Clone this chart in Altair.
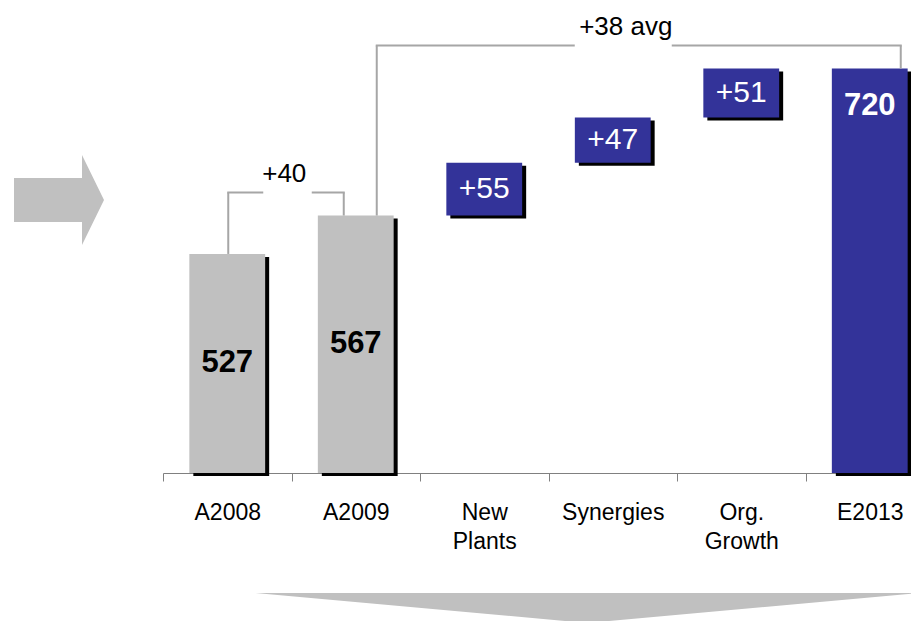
import altair as alt
import pandas as pd

# ---- data ----
categories = ["A2008", "A2009", "New Plants", "Synergies", "Org. Growth", "E2013"]
values = [527, 567, 55, 47, 51, 720]
kinds = ["total", "total", "step", "step", "step", "total"]
series = ["actual", "actual", "plan", "plan", "plan", "plan"]

bracket_from = ["A2008", "A2009"]
bracket_to = ["A2009", "E2013"]
bracket_text = ["+40", "+38 avg"]

# ---- scale / style settings ----
AXIS_MIN = 299
AXIS_MAX = 783
BRACKET_RISE = 24
FONT = "Liberation Sans"
GRAY = "#c0c0c0"
BLUE = "#333399"
LINE = "#a6a6a6"

# pixel offsets of bracket parts relative to band centres (styling only)
leg_left_off = [1, 21]
leg_right_off = [-12, 31]
gap_left_off = [36, 219]
gap_right_off = [-44, -198]
text_off = [57, 270]

# ---- build waterfall table ----
rows = []
running = 0
last_total = max(i for i, k in enumerate(kinds) if k == "total")
for i, (cat, v, k, s) in enumerate(zip(categories, values, kinds, series)):
    if k == "total":
        start, end = AXIS_MIN, v
        running = v
        label = str(v)
        pos = "top" if i == last_total else "middle"
    else:
        start, end = running, running + v
        running = end
        label = f"+{v}"
        pos = "middle"
    rows.append(dict(cat=cat, start=start, end=end, mid=(start + end) / 2,
                     kind=k, series=s, label=label, pos=pos))
df = pd.DataFrame(rows)
end_of = dict(zip(df["cat"], df["end"]))

xscale = alt.Scale(domain=categories, range=[0, 771], paddingInner=0, paddingOuter=0)
yscale = alt.Scale(domain=[AXIS_MIN, AXIS_MAX], zero=False, nice=False)
xaxis = alt.Axis(title=None, labelExpr="split(datum.label, ' ')", tickBand="extent",
                 labelAngle=0)


def X(field, **kw):
    return alt.X(f"{field}:N", scale=xscale, axis=xaxis, **kw)


def Y(field):
    return alt.Y(f"{field}:Q", scale=yscale, axis=None)


bw = alt.RelativeBandSize(0.59)

shadow = alt.Chart(df).mark_bar(color="black", xOffset=4, x2Offset=4, yOffset=3,
                                y2Offset=3, width=bw).encode(
    x=X("cat"), y=Y("end"), y2="start")

bars = alt.Chart(df).mark_bar(width=bw).encode(
    x=X("cat"), y=Y("end"), y2="start",
    color=alt.Color("series:N", scale=alt.Scale(domain=["actual", "plan"], range=[GRAY, BLUE]),
                    legend=None))

total_mid = alt.Chart(df).transform_filter(
    "datum.kind == 'total' && datum.pos == 'middle'").mark_text(
    font=FONT, fontSize=31, fontWeight="bold", color="black", baseline="middle").encode(
    x=X("cat"), y=Y("mid"), text="label:N")

total_top = alt.Chart(df).transform_filter(
    "datum.kind == 'total' && datum.pos == 'top'").mark_text(
    font=FONT, fontSize=31, fontWeight="bold", color="white", baseline="top", dy=22).encode(
    x=X("cat"), y=Y("end"), text="label:N")

step_lab = alt.Chart(df).transform_filter("datum.kind == 'step'").mark_text(
    font=FONT, fontSize=30, color="white", baseline="middle").encode(
    x=X("cat"), y=Y("mid"), text="label:N")

layers = [shadow, bars, total_mid, total_top, step_lab]

for i in range(len(bracket_from)):
    lv, rv = end_of[bracket_from[i]], end_of[bracket_to[i]]
    bdf = pd.DataFrame({"left": [bracket_from[i]], "right": [bracket_to[i]],
                        "lval": [lv], "rval": [rv],
                        "level": [max(lv, rv) + BRACKET_RISE],
                        "text": [bracket_text[i]]})
    base = alt.Chart(bdf)
    rule_kw = dict(color=LINE, strokeWidth=2)
    layers += [
        base.mark_rule(xOffset=leg_left_off[i], **rule_kw).encode(
            x=X("left", bandPosition=0.5), y=Y("lval"), y2="level"),
        base.mark_rule(xOffset=leg_right_off[i], **rule_kw).encode(
            x=X("right", bandPosition=0.5), y=Y("rval"), y2="level"),
        base.mark_rule(xOffset=leg_left_off[i] - 1, x2Offset=gap_left_off[i], **rule_kw).encode(
            x=X("left", bandPosition=0.5), x2=alt.X2("left", bandPosition=0.5), y=Y("level")),
        base.mark_rule(xOffset=gap_right_off[i], x2Offset=leg_right_off[i] + 1, **rule_kw).encode(
            x=X("right", bandPosition=0.5), x2=alt.X2("right", bandPosition=0.5), y=Y("level")),
        base.mark_text(font=FONT, fontSize=26, color="black", dx=text_off[i], dy=-10,
                       baseline="alphabetic", align="center").encode(
            x=X("left"), y=Y("level"), text="text:N"),
    ]

# decorative arrows (custom symbol paths)
deco = pd.DataFrame({"d": [1]})
arrow_path = "M -0.9 -0.44 L 0.46 -0.44 L 0.46 -0.9 L 0.9 0 L 0.46 0.9 L 0.46 0.44 L -0.9 0.44 Z"
chevron_path = "M -6.63 -0.28 L 6.63 -0.28 L 0 0.32 Z"
left_arrow = alt.Chart(deco).mark_point(shape=arrow_path, size=10000, filled=True,
                                        color=GRAY, opacity=1, strokeWidth=0).encode(
    x=alt.value(-104), y=alt.value(192))
chevron = alt.Chart(deco).mark_point(shape=chevron_path, size=10000, filled=True,
                                     color=GRAY, opacity=1, strokeWidth=0).encode(
    x=alt.value(424), y=alt.value(599))
layers += [left_arrow, chevron]

chart = alt.layer(*layers).properties(
    width=748, height=465,
    padding={"left": 155, "top": 0, "right": 0, "bottom": 148},
    autosize=alt.AutoSizeParams(type="none"),
).configure_view(stroke=None).configure_axisX(
    domainColor="#808080", tickColor="#808080", tickSize=8, domainWidth=1, tickWidth=1,
    labelFont=FONT, labelFontSize=23, labelColor="black", labelPadding=20,
    labelLineHeight=29,
)

chart.save("out.html", embed_options={"renderer": "svg", "actions": False})
